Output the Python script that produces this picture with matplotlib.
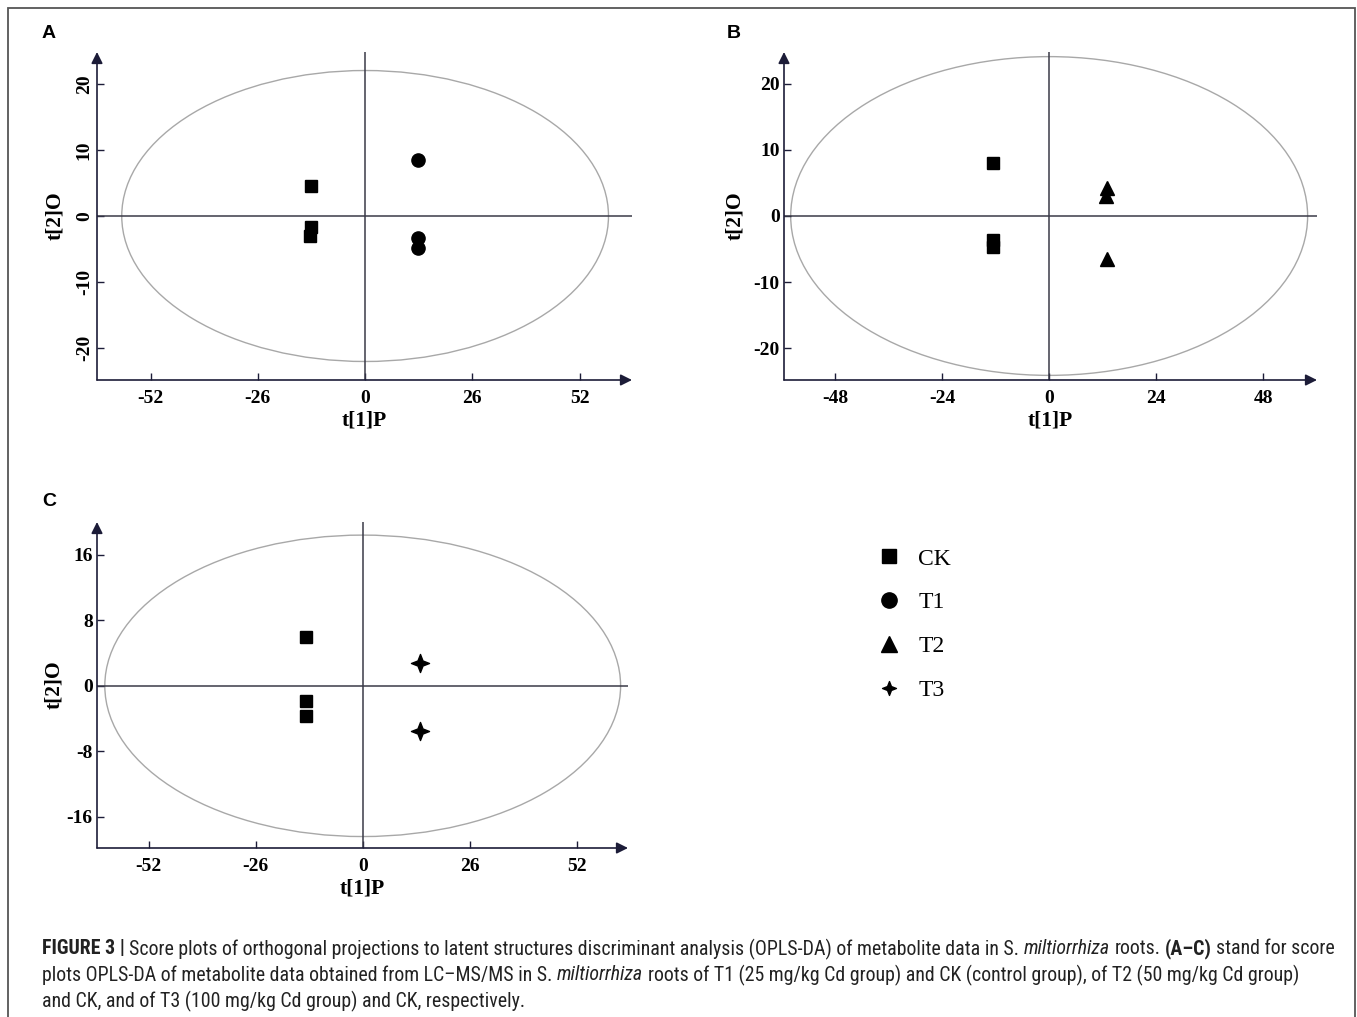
import matplotlib
matplotlib.use("Agg")
import matplotlib.pyplot as plt
from matplotlib.patches import Ellipse, Rectangle
from matplotlib.path import Path
from matplotlib.lines import Line2D
from matplotlib import font_manager

W, H = 1357, 1017

# ---- data ----
# panel A : CK vs T1
a_ck_x = [-13.2, -13.0, -13.3]
a_ck_y = [4.6, -1.7, -3.0]
a_t1_x = [12.9, 12.9, 12.9]
a_t1_y = [8.4, -3.3, -4.8]
# panel B : CK vs T2
b_ck_x = [-12.5, -12.5, -12.5]
b_ck_y = [8.0, -3.7, -4.7]
b_t2_x = [13.0, 12.8, 13.0]
b_t2_y = [4.2, 3.0, -6.5]
# panel C : CK vs T3
c_ck_x = [-13.7, -13.7, -13.7]
c_ck_y = [5.9, -1.8, -3.7]
c_t3_x = [13.9, 13.9]
c_t3_y = [2.8, -5.5]

a_xticks = [-52, -26, 0, 26, 52]
a_yticks = [-20, -10, 0, 10, 20]
b_xticks = [-48, -24, 0, 24, 48]
b_yticks = [-20, -10, 0, 10, 20]
c_xticks = [-52, -26, 0, 26, 52]
c_yticks = [-16, -8, 0, 8, 16]

# Hotelling T2 ellipse half axes
a_ell = (59.0, 22.0)
b_ell = (57.9, 24.1)
c_ell = (62.7, 18.4)

groups = ["CK", "T1", "T2", "T3"]

# 4 point star marker
r = 0.28
star = Path([(0, 1), (r, r), (1, 0), (r, -r), (0, -1), (-r, -r), (-1, 0), (-r, r), (0, 1)],
            [Path.MOVETO] + [Path.LINETO] * 7 + [Path.CLOSEPOLY])

axc = "#1c1c38"
serif = "Liberation Serif"

fig = plt.figure(figsize=(W / 100, H / 100), dpi=100)


def panel(box, xlim, ylim, xt, yt, ell, rot=False):
    l, rr, t, b = box
    ax = fig.add_axes([l / W, 1 - b / H, (rr - l) / W, (b - t) / H])
    ax.set_xlim(xlim)
    ax.set_ylim(ylim)
    for s in ax.spines.values():
        s.set_visible(False)
    arr = dict(arrowstyle="-|>", color=axc, lw=1.2, mutation_scale=17, shrinkA=0, shrinkB=0)
    ax.annotate("", xy=(1, 0), xytext=(0, 0), xycoords="axes fraction", arrowprops=arr)
    ax.annotate("", xy=(0, 1), xytext=(0, 0), xycoords="axes fraction", arrowprops=arr)
    ax.axhline(0, color="#3a3a48", lw=1.1)
    ax.axvline(0, color="#3a3a48", lw=1.1)
    ax.add_patch(Ellipse((0, 0), 2 * ell[0], 2 * ell[1], fill=False, ec="#a8a8a8", lw=1.0))
    ax.set_xticks(xt, [str(v) for v in xt], fontfamily=serif, fontweight="bold", fontsize=14)
    if rot:
        ax.set_yticks(yt, [str(v) for v in yt], fontfamily=serif, fontweight="bold",
                      fontsize=14, rotation=90, va="center")
    else:
        ax.set_yticks(yt, [str(v) for v in yt], fontfamily=serif, fontweight="bold", fontsize=14)
    ax.tick_params(axis="x", direction="in", length=5, width=1, color=axc, pad=7)
    ax.tick_params(axis="y", direction="in", length=5, width=1, color=axc, pad=3)
    ax.set_xlabel("t[1]P", fontfamily=serif, fontweight="bold", fontsize=15.5, labelpad=3)
    ax.set_ylabel("t[2]O", fontfamily=serif, fontweight="bold", fontsize=15.5)
    return ax


axA = panel((97, 632, 52, 380), (-65, 64.7), (-24.8, 24.8), a_xticks, a_yticks, a_ell, rot=True)
axA.plot(a_ck_x, a_ck_y, "s", color="black", ms=8.3, ls="none")
axA.plot(a_t1_x, a_t1_y, "o", color="black", ms=9.5, ls="none")
axA.yaxis.set_label_coords(-0.06, 0.5)

axB = panel((784, 1317, 52, 380), (-59.4, 60), (-24.8, 24.8), b_xticks, b_yticks, b_ell)
axB.plot(b_ck_x, b_ck_y, "s", color="black", ms=8.3, ls="none")
axB.plot(b_t2_x, b_t2_y, "^", color="black", ms=10, ls="none")
axB.yaxis.set_label_coords(-0.073, 0.5)

axC = panel((97, 628, 522, 848), (-64.6, 64.5), (-19.8, 20.0), c_xticks, c_yticks, c_ell)
axC.plot(c_ck_x, c_ck_y, "s", color="black", ms=8.3, ls="none")
axC.plot(c_t3_x, c_t3_y, marker=star, color="black", ms=13, ls="none")
axC.yaxis.set_label_coords(-0.062, 0.5)

for lab, x, y in [("A", 42, 33), ("B", 727, 33), ("C", 42, 502)]:
    fig.text(x / W, 1 - y / H, lab, fontfamily="Liberation Sans", fontweight="bold",
             fontsize=14, va="center", ha="left")

# legend
handles = [
    Line2D([], [], marker="s", color="black", ls="none", ms=10.5),
    Line2D([], [], marker="o", color="black", ls="none", ms=11),
    Line2D([], [], marker="^", color="black", ls="none", ms=11),
    Line2D([], [], marker=star, color="black", ls="none", ms=10),
]
fig.legend(handles, groups, loc="upper left", bbox_to_anchor=(877 / W, 1 - 548 / H),
           frameon=False, prop={"family": serif, "size": 17}, handlelength=1.0,
           handletextpad=0.74, labelspacing=0.95, borderpad=0, borderaxespad=0)

# outer frame
fig.patches.append(Rectangle((8 / W, -0.01), 1347 / W, 1.01 - 8 / H, transform=fig.transFigure,
                             fill=False, ec="#555555", lw=1.3))

# caption
cap_font = "Liberation Sans"
for f in ["Liberation Sans Narrow", "Roboto Condensed"]:
    try:
        font_manager.findfont(f, fallback_to_default=False)
        cap_font = f
        break
    except Exception:
        pass

caption = [
    [("FIGURE 3 |", "bold", "normal"),
     ("Score plots of orthogonal projections to latent structures discriminant analysis (OPLS-DA) of metabolite data in S.", "normal", "normal"),
     ("miltiorrhiza", "normal", "italic"), ("roots.", "normal", "normal"),
     ("(A\u2013C)", "bold", "normal"), ("stand for score", "normal", "normal")],
    [("plots OPLS-DA of metabolite data obtained from LC\u2013MS/MS in S.", "normal", "normal"),
     ("miltiorrhiza", "normal", "italic"),
     ("roots of T1 (25 mg/kg Cd group) and CK (control group), of T2 (50 mg/kg Cd group)", "normal", "normal")],
    [("and CK, and of T3 (100 mg/kg Cd group) and CK, respectively.", "normal", "normal")],
]
line_y = [949, 975, 1001]

rend = fig.canvas.get_renderer()


def draw_caption(size, keep=True):
    arts = []
    widths = []
    sp = fig.text(0, 0, "x x", fontsize=size, fontfamily=cap_font)
    nsp = fig.text(0, 0, "xx", fontsize=size, fontfamily=cap_font)
    space = sp.get_window_extent(rend).width - nsp.get_window_extent(rend).width
    sp.remove()
    nsp.remove()
    for runs, yy in zip(caption, line_y):
        x = 42
        for s, wgt, sty in runs:
            t = fig.text(x / W, 1 - yy / H, s, fontsize=size, fontfamily=cap_font,
                         fontweight=wgt, fontstyle=sty, color="#222222", va="center", ha="left")
            arts.append(t)
            x += t.get_window_extent(rend).width + space
        widths.append(x - space - 42)
    if not keep:
        for a in arts:
            a.remove()
    return widths


w = draw_caption(10, keep=False)
draw_caption(10 * 1290 / w[0])

fig.savefig("out.png", dpi=100)
